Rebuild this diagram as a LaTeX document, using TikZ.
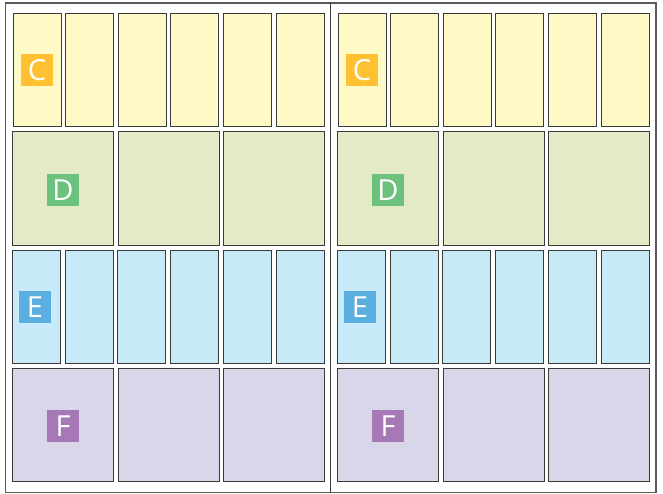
\documentclass[tikz,border=0pt]{standalone}
\usepackage{fontspec}
\setmainfont{Open Sans}
\usetikzlibrary{positioning}
\definecolor{cfill}{HTML}{FFF9C5}
\definecolor{dfill}{HTML}{E2EBC5}
\definecolor{efill}{HTML}{C8E9F8}
\definecolor{ffill}{HTML}{D9D6EA}
\definecolor{ctag}{HTML}{FFC132}
\definecolor{dtag}{HTML}{6CC17C}
\definecolor{etag}{HTML}{5AAFE0}
\definecolor{ftag}{HTML}{A678B6}
\definecolor{edge}{HTML}{3A3A3A}
\definecolor{rim}{HTML}{5A5A5A}
\tikzset{
    cell/.style={draw=edge, line width=1pt, inner sep=0pt, minimum height=113pt},
    narrow/.style={cell, minimum width=48pt},
    wide/.style={cell, minimum width=101pt},
    tag/.style={inner sep=0pt, minimum size=32pt, text=white, font=\fontsize{29}{29}\selectfont},
    rimline/.style={draw=rim, line width=1.2pt}
}

\begin{document}
\begin{tikzpicture}[x=1pt, y=-1pt]
    \useasboundingbox (0,0) rectangle (663,494);
    \node[rimline, inner sep=0pt, minimum width=650.5pt, minimum height=489.5pt] (frame) at (330.75,247.75) {};
    \draw[rimline, draw=edge, line width=1.4pt] (frame.north) -- (frame.south);

    \foreach \p/\dx in {l/0, r/325} {
        % narrow rows C and E
        \foreach \i in {0,...,5} {
            \node[narrow, fill=cfill] (\p c\i) at ({37+52.6*\i+\dx},70.5) {};
            \node[narrow, fill=efill] (\p e\i) at ({36.5+52.7*\i+\dx},307) {};
        }
        % wide rows D and F
        \foreach \i in {0,...,2} {
            \node[wide, fill=dfill] (\p d\i) at ({63+105.5*\i+\dx},188.5) {};
            \node[wide, fill=ffill] (\p f\i) at ({63+105.5*\i+\dx},424.5) {};
        }
        \node[tag, fill=ctag] (\p ctag) at (\p c0.center) {C};
        \node[tag, fill=dtag] (\p dtag) at ([yshift=-1.5pt]\p d0.center) {D};
        \node[tag, fill=etag] (\p etag) at ([xshift=-1.5pt]\p e0.center) {E};
        \node[tag, fill=ftag] (\p ftag) at ([yshift=-1.5pt]\p f0.center) {F};
    }
\end{tikzpicture}
\end{document}
